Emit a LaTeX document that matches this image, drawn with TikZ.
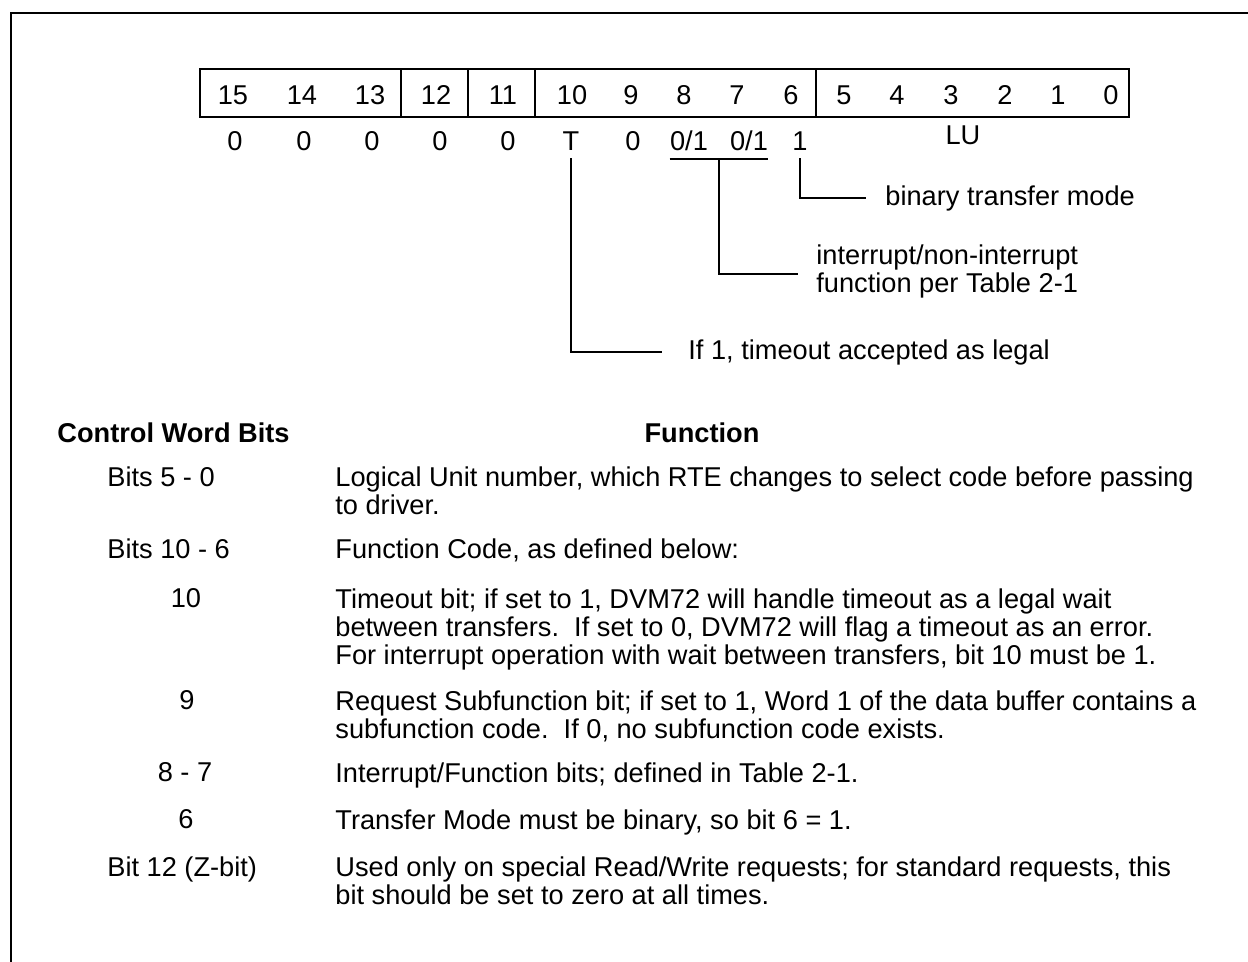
\documentclass[tikz,border=0pt]{standalone}
\usepackage{fontspec}
\setmainfont{Liberation Sans}
\usetikzlibrary{positioning, calc}

\tikzset{
  txt/.style={font=\fontsize{13.6}{14}\selectfont, inner sep=0pt},
  bitnum/.style={txt, anchor=base},
  desc/.style={txt, anchor=north west, align=left},
  rowlbl/.style={txt, anchor=north west},
  hdr/.style={txt, font=\fontsize{13.6}{14}\selectfont\bfseries, anchor=north west},
  lead/.style={line width=1pt},
}

\begin{document}
\begin{tikzpicture}[x=0.5pt, y=-0.5pt]
  \useasboundingbox (0,0) rectangle (1248,962);
  % frame, cut off at right and bottom
  \draw[line width=1.4pt] (11,962) -- (11,13) -- (1248,13);

  % control word register
  \draw[line width=1pt] (200,69) rectangle (1129,117);
  \foreach \xx in {401,468,535,816}
    \draw[line width=1pt] (\xx,69) -- (\xx,117);
  \foreach \xx/\bit in {233/15,302/14,370/13,436/12,503/11,572/10,631/9,684/8,
                        737/7,791/6,844/5,897/4,951/3,1005/2,1058/1,1111/0}
    \node[bitnum] (b\bit) at (\xx,105) {\bit};

  % bit values
  \foreach \xx/\nm in {235/15,304/14,372/13,440/12,508/11,633/9}
    \node[bitnum] (v\nm) at (\xx,151) {0};
  \node[bitnum] (v10) at (571,151) {T};
  \node[bitnum] (v8) at (689,151) {0/1};
  \node[bitnum] (v7) at (749,151) {0/1};
  \node[bitnum] (v6) at (800,151) {1};
  \node[bitnum] (vLU) at (963,145) {LU};

  % callouts
  \path ([yshift=-3.5pt]v8.south west) coordinate (ula)
        ([yshift=-3.5pt]v7.south east) coordinate (ulb);
  \draw[lead] (ula) -- (ulb);
  \coordinate (ulm) at ($(ula)!0.5!(ulb)$);

  \node[txt, anchor=west] (cMode) at (885,198) {binary transfer mode};
  \node[txt, anchor=west, align=left] (cIntr) at (816,271) {interrupt/non-interrupt\\function per Table 2-1};
  \node[txt, anchor=west] (cTime) at (688,352) {If 1, timeout accepted as legal};

  \draw[lead] ([yshift=-3.5pt]v6.south) |- ([xshift=-9.5pt]cMode.west);
  \draw[lead] (ulm) |- ([xshift=-9pt,yshift=-1.5pt]cIntr.west);
  \draw[lead] ([yshift=-3.5pt]v10.south) |- ([xshift=-13pt]cTime.west);

  % table of bits
  \node[hdr] (hBits) at (57,422) {Control Word Bits};
  \node[hdr, anchor=north] (hFunc) at (702,422) {Function};

  \node[rowlbl] (r1) at (107,466) {Bits 5 - 0};
  \node[desc] (d1) at (335,466) {Logical Unit number, which RTE changes to select code before passing\\to driver.};

  \node[rowlbl] (r2) at (107,538) {Bits 10 - 6};
  \node[desc] (d2) at (335,538) {Function Code, as defined below:};

  \node[rowlbl, anchor=north] (r3) at (186,588) {10};
  \node[desc] (d3) at (335,588) {Timeout bit; if set to 1, DVM72 will handle timeout as a legal wait\\between transfers.\ \ If set to 0, DVM72 will flag a timeout as an error.\\For interrupt operation with wait between transfers, bit 10 must be 1.};

  \node[rowlbl, anchor=north] (r4) at (187,690) {9};
  \node[desc] (d4) at (335,690) {Request Subfunction bit; if set to 1, Word 1 of the data buffer contains a\\subfunction code.\ \ If 0, no subfunction code exists.};

  \node[rowlbl, anchor=north] (r5) at (185,762) {8 - 7};
  \node[desc] (d5) at (335,762) {Interrupt/Function bits; defined in Table 2-1.};

  \node[rowlbl, anchor=north] (r6) at (186,809) {6};
  \node[desc] (d6) at (335,809) {Transfer Mode must be binary, so bit 6 = 1.};

  \node[rowlbl] (r7) at (107,856) {Bit 12 (Z-bit)};
  \node[desc] (d7) at (335,856) {Used only on special Read/Write requests; for standard requests, this\\bit should be set to zero at all times.};
\end{tikzpicture}
\end{document}
